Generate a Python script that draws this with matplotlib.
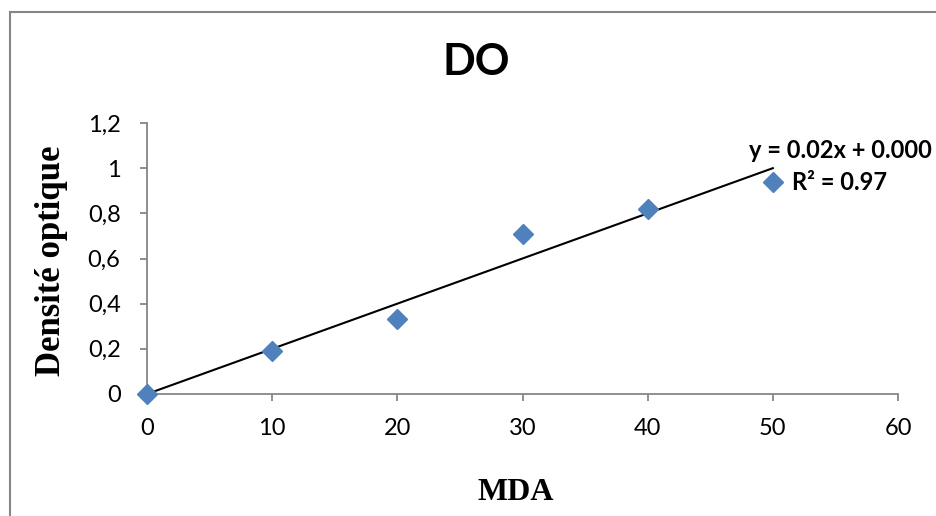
import numpy as np
import matplotlib
matplotlib.use("Agg")
from matplotlib import pyplot as plt
from matplotlib.patches import Rectangle

# data
mda = [0, 10, 20, 30, 40, 50]
do_values = [0.0, 0.19, 0.33, 0.71, 0.82, 0.94]
slope = 0.02
x_ticks = [0, 10, 20, 30, 40, 50, 60]
y_ticks = [0, 0.2, 0.4, 0.6, 0.8, 1.0, 1.2]
y_tick_labels = ["0", "0,2", "0,4", "0,6", "0,8", "1", "1,2"]

sans = "Lato"
serif = "Liberation Serif"
grey = "#868686"

fig = plt.figure(figsize=(9.36, 5.16), dpi=100)
ax = fig.add_axes([147 / 936, 1 - 394 / 516, (898 - 147) / 936, (394 - 123) / 516])

# chart border (cut off at right and bottom like the reference)
fig.patches.append(Rectangle((10 / 936, -0.1), 1.2, 1 - 12 / 516 + 0.1,
                             transform=fig.transFigure, fill=False,
                             edgecolor=grey, lw=1.5))

ax.plot(mda, do_values, linestyle="none", marker="D", markersize=10.5,
        color="#4F81BD", markeredgecolor="#4F81BD", zorder=3, clip_on=False)

# linear trendline through origin
xt = np.array([mda[0], mda[-1]])
ax.plot(xt, slope * xt, color="black", lw=1.5, zorder=2, clip_on=False)

ax.set_xlim(0, 60)
ax.set_ylim(0, 1.2)
ax.set_xticks(x_ticks)
ax.set_yticks(y_ticks)
ax.set_yticklabels(y_tick_labels)
for lab in ax.get_xticklabels() + ax.get_yticklabels():
    lab.set_fontfamily(sans)
    lab.set_fontsize(17)

for s in ["top", "right"]:
    ax.spines[s].set_visible(False)
for s in ["left", "bottom"]:
    ax.spines[s].set_color(grey)
    ax.spines[s].set_linewidth(1.3)
ax.tick_params(direction="out", length=5, width=1.3, color=grey, labelcolor="black")
ax.tick_params(axis="x", pad=12)
ax.tick_params(axis="y", pad=14)

fig.text(476 / 936, 1 - 62 / 516, "DO", ha="center", va="center",
         fontsize=31, fontweight="bold", family=sans)
fig.text(52 / 936, 1 - 261 / 516, "Densité optique", ha="center", va="center",
         rotation=90, fontsize=25, fontweight="bold", family=serif)
fig.text(516 / 936, 1 - 493 / 516, "MDA", ha="center", va="center",
         fontsize=23, fontweight="bold", family=serif)

fig.text(840 / 936, 1 - 150 / 516, "y = 0.02x + 0.000", ha="center", va="center",
         fontsize=17, fontweight="bold", family=sans)
fig.text(840 / 936, 1 - 182 / 516, "R² = 0.97", ha="center", va="center",
         fontsize=17, fontweight="bold", family=sans)

fig.savefig("out.png", dpi=100)
